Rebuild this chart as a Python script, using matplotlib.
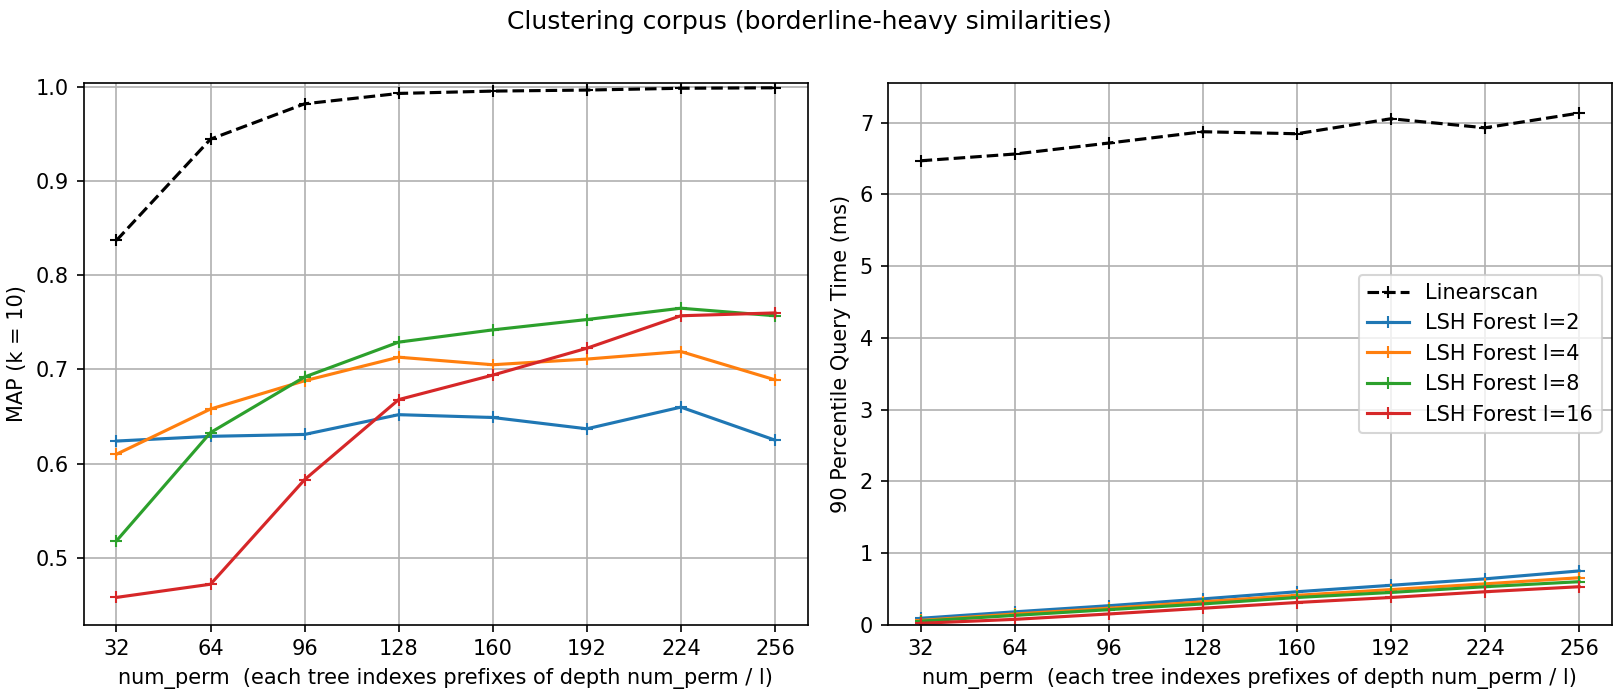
import numpy as np
import matplotlib
matplotlib.use("Agg")
import matplotlib.pyplot as plt

num_perms = [32, 64, 96, 128, 160, 192, 224, 256]
forest_ls = [2, 4, 8, 16]

# MAP (k = 10)
map_linearscan = [0.837, 0.9445, 0.982, 0.993, 0.9955, 0.9966, 0.9985, 0.999]
map_forest = {
    2: [0.624, 0.629, 0.631, 0.652, 0.649, 0.637, 0.660, 0.625],
    4: [0.610, 0.658, 0.688, 0.713, 0.705, 0.711, 0.719, 0.689],
    8: [0.518, 0.633, 0.692, 0.729, 0.742, 0.753, 0.765, 0.757],
    16: [0.458, 0.472, 0.583, 0.668, 0.694, 0.7225, 0.757, 0.760],
}

# 90 percentile query time (ms)
time_linearscan = [6.47, 6.564, 6.717, 6.875, 6.847, 7.056, 6.93, 7.135]
time_forest = {
    2: [0.09, 0.18, 0.265, 0.36, 0.46, 0.55, 0.64, 0.75],
    4: [0.06, 0.15, 0.23, 0.32, 0.41, 0.49, 0.57, 0.655],
    8: [0.05, 0.13, 0.21, 0.29, 0.38, 0.45, 0.53, 0.60],
    16: [0.02, 0.075, 0.15, 0.23, 0.31, 0.38, 0.46, 0.53],
}

xlabel = "num_perm  (each tree indexes prefixes of depth num_perm / l)"

fig = plt.figure(figsize=(1619 / 150, 696 / 150), dpi=150)
ax1 = fig.add_axes([0.0516, 0.1024, 0.4474, 0.7789])
ax2 = fig.add_axes([0.5483, 0.1024, 0.4474, 0.7789])

ax1.plot(num_perms, map_linearscan, "k--+", label="Linearscan")
for l in forest_ls:
    ax1.plot(num_perms, map_forest[l], "-+", label="LSH Forest l=%d" % l)
ax1.set_ylabel("MAP (k = 10)")
ax1.set_xlabel(xlabel)
ax1.set_xticks(num_perms)
ax1.set_ylim(0.429, 1.0045)
ax1.grid()

ax2.plot(num_perms, time_linearscan, "k--+", label="Linearscan")
for l in forest_ls:
    ax2.plot(num_perms, time_forest[l], "-+", label="LSH Forest l=%d" % l)
ax2.set_ylabel("90 Percentile Query Time (ms)")
ax2.set_xlabel(xlabel)
ax2.set_xticks(num_perms)
ax2.set_ylim(0, 7.56)
ax2.grid()
ax2.legend(loc="center right")

fig.suptitle("Clustering corpus (borderline-heavy similarities)", y=0.985)

fig.savefig("out.png", dpi=150)
